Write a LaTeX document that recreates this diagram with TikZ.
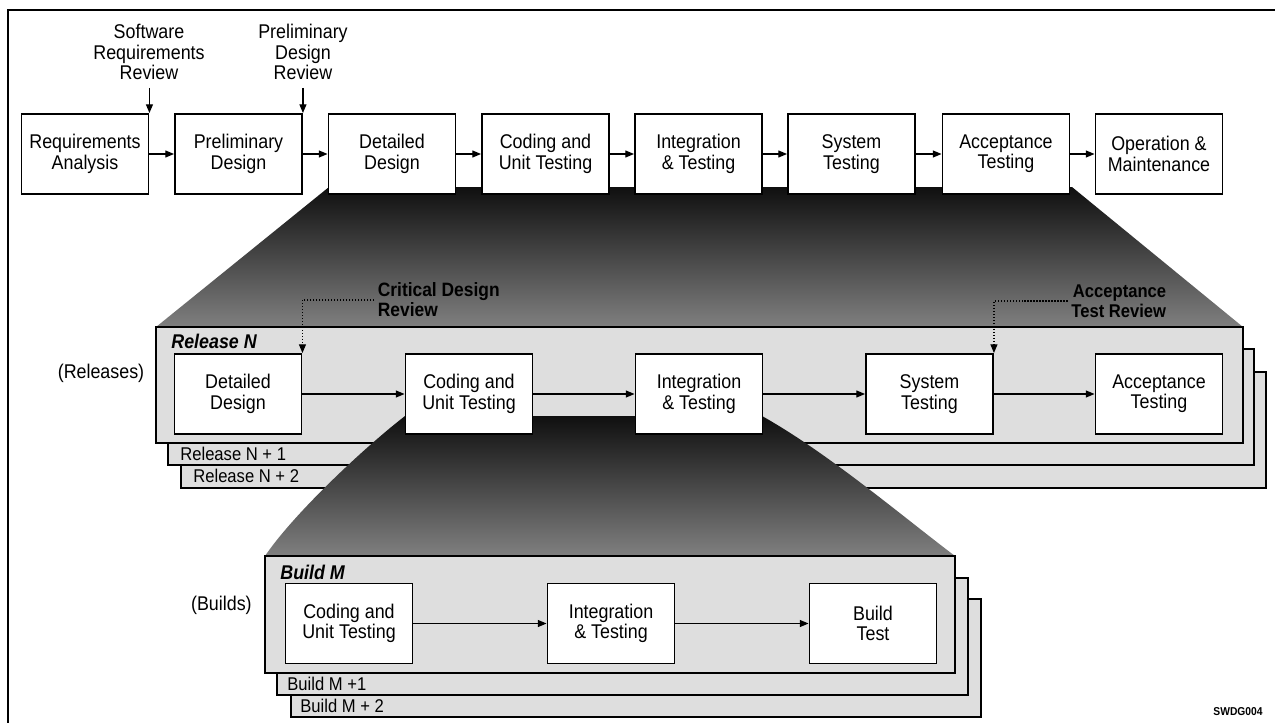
\documentclass[tikz,border=0pt]{standalone}
\usepackage{fontspec}
\setmainfont[FakeStretch=0.9]{Liberation Sans}
\usetikzlibrary{arrows.meta}

\begin{document}
\begin{tikzpicture}[x=0.02cm, y=-0.02cm,
        phase/.style={draw, line width=1.1pt, fill=white, minimum width=2.54cm, minimum height=1.6cm, inner sep=0pt, align=center, font=\fontsize{11.3}{11.6}\selectfont},
        flow/.style={line width=0.7pt, -{Triangle[length=5pt,width=4pt]}},
        review/.style={flow, densely dotted},
        stackbox/.style={draw, line width=0.9pt, fill=black!13},
        fan/.style={top color=black!94, middle color=black!70, bottom color=black!50},
        tag/.style={anchor=west, inner sep=0pt, font=\fontsize{10.5}{11}\selectfont},
        title/.style={anchor=west, inner sep=0pt, font=\bfseries\itshape\fontsize{11.3}{11.6}\selectfont},
        plain/.style={inner sep=0pt, align=center, font=\fontsize{11.3}{11.6}\selectfont}]
            \useasboundingbox (0,0) rectangle (1275,723);
            \clip (0,0) rectangle (1275,723);
            \draw[line width=1.1pt] (8,10) rectangle (1300,750);

            \shade[fan] (329,187) -- (1072,187) -- (1243,327) -- (156,327) -- cycle;

            \draw[stackbox] (181,372) rectangle (1266,488);
            \draw[stackbox] (168,349) rectangle (1254,465);
            \draw[stackbox] (156,327) rectangle (1243,443);

            \shade[fan] (405,416) -- (762,416) .. controls (828,453) and (902,516) .. (955,556)
                -- (265,556) .. controls (292,516) and (360,451) .. (405,416) -- cycle;

            \draw[stackbox] (291,599) rectangle (981,717);
            \draw[stackbox] (277,578) rectangle (968,695);
            \draw[stackbox] (265,556) rectangle (955,673);

            \node[phase] (ra) at (85,154) {Requirements\\Analysis};
            \node[phase] (pd) at (238.5,154) {Preliminary\\Design};
            \node[phase] (dd) at (392,154) {Detailed\\Design};
            \node[phase] (cu) at (545.5,154) {Coding and\\Unit Testing};
            \node[phase] (it) at (698.5,154) {Integration\\\& Testing};
            \node[phase] (st) at (851.5,154) {System\\Testing};
            \node[phase] (acc) at (1006,154) {Acceptance\\Testing};
            \node[phase] (om) at (1159,154) {Operation \&\\Maintenance};
            \draw[flow] (ra) -- (pd);
            \draw[flow] (pd) -- (dd);
            \draw[flow] (dd) -- (cu);
            \draw[flow] (cu) -- (it);
            \draw[flow] (it) -- (st);
            \draw[flow] (st) -- (acc);
            \draw[flow] (acc) -- (om);

            \node[plain] (srr) at (149,52) {Software\\Requirements\\Review};
            \node[plain] (pdr) at (303,52) {Preliminary\\Design\\Review};
            \draw[flow] (ra.north east |- 0,88) -- (ra.north east);
            \draw[flow] (pd.north east |- 0,88) -- (pd.north east);

            \node[plain] (rels) at (101,373) {(Releases)};
            \node[title] (reln) at (171,341) {Release N};
            \node[tag] (reln1) at (180,454) {Release N + 1};
            \node[tag] (reln2) at (193,476) {Release N + 2};

            \node[phase] (rdd) at (238,394) {Detailed\\Design};
            \node[phase] (rcu) at (469,394) {Coding and\\Unit Testing};
            \node[phase] (rit) at (699,394) {Integration\\\& Testing};
            \node[phase] (rst) at (929.5,394) {System\\Testing};
            \node[phase] (racc) at (1159,394) {Acceptance\\Testing};
            \draw[flow] (rdd) -- (rcu);
            \draw[flow] (rcu) -- (rit);
            \draw[flow] (rit) -- (rst);
            \draw[flow] (rst) -- (racc);

            \node[anchor=west, align=left, inner sep=2pt, font=\bfseries\fontsize{11}{11.3}\selectfont] (cdr) at (374,300) {Critical Design\\Review};
            \node[anchor=east, align=right, inner sep=2pt, font=\bfseries\fontsize{10.5}{11.3}\selectfont] (atr) at (1170,301) {Acceptance\\Test Review};
            \draw[review] (cdr.west) -| (rdd.north east);
            \draw[review] (atr.west) -| (rst.north east);

            \node[plain, anchor=east] (blds) at (252,605) {(Builds)};
            \node[title] (bm) at (280,572) {Build M};
            \node[tag] (bm1) at (287,684) {Build M +1};
            \node[tag] (bm2) at (300,706) {Build M + 2};

            \node[phase] (bcu) at (349,623.5) {Coding and\\Unit Testing};
            \node[phase] (bit) at (611,623.5) {Integration\\\& Testing};
            \node[phase] (bbt) at (873,623.5) {Build\\Test};
            \draw[flow] (bcu) -- (bit);
            \draw[flow] (bit) -- (bbt);

            \node[font=\bfseries\fontsize{6.5}{7}\selectfont] (code) at (1238,712) {SWDG004};
        \end{tikzpicture}
\end{document}
